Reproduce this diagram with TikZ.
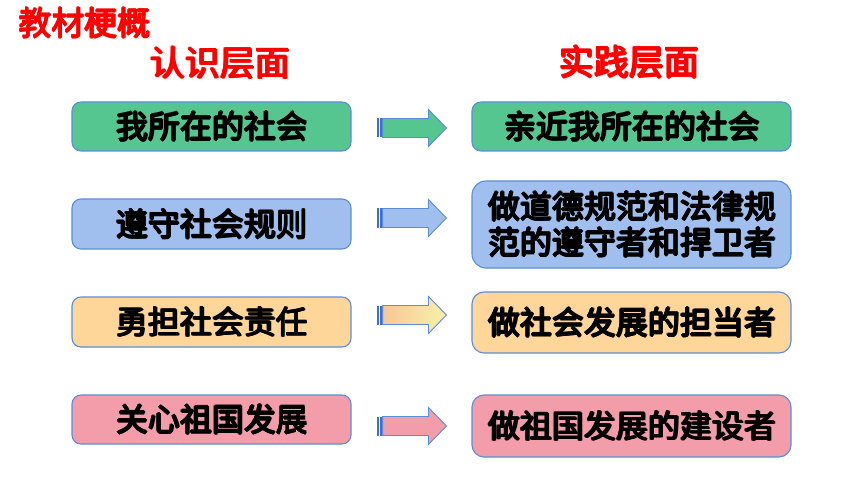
\documentclass[tikz,border=0pt]{standalone}
\usepackage{fontspec}
\newfontfamily\cjkb{Noto Sans CJK SC}
\usetikzlibrary{calc}
\definecolor{bordblue}{HTML}{5B8ED8}
\definecolor{boxgreen}{HTML}{55C690}
\definecolor{boxblue}{HTML}{A0BFEE}
\definecolor{boxorange}{HTML}{FFD699}
\definecolor{boxpink}{HTML}{F29DA9}
\definecolor{grA}{HTML}{F9C598}
\definecolor{grB}{HTML}{F8F2AA}
\definecolor{stripe}{HTML}{3F6FD0}
\newcommand\heavy[1]{\rlap{\kern1.5pt#1}\rlap{\kern0.75pt\raisebox{0.8pt}{#1}}\rlap{\kern0.75pt\raisebox{-0.8pt}{#1}}\rlap{\kern0.4pt\raisebox{0.4pt}{#1}}\rlap{\kern1.1pt\raisebox{-0.4pt}{#1}}#1}
\begin{document}
\begin{tikzpicture}[x=1pt,y=-1pt,
  titletext/.style={text=red,font=\cjkb\fontsize{35}{40}\selectfont,inner sep=0},
  cbox/.style={draw=bordblue,line width=1.1pt,rounded corners=9pt,inner sep=0,
    font=\cjkb\fontsize{32}{36}\selectfont,align=center,text=black},
  stripebar/.style={fill=stripe,draw=none}]
\useasboundingbox (0,0) rectangle (860,484);
\fill[white] (0,0) rectangle (860,484);
% titles
\node[titletext,font=\cjkb\fontsize{33}{36}\selectfont] (t0) at (84,23) {\heavy{教材梗概}};
\node[titletext] (t1) at (219.5,63) {\heavy{认识层面}};
\node[titletext] (t2) at (628.5,62) {\heavy{实践层面}};
% left boxes
\node[cbox,fill=boxgreen,minimum width=279,minimum height=49] (L1) at (211.5,126.5) {\heavy{我所在的社会}};
\node[cbox,fill=boxblue,minimum width=279,minimum height=50] (L2) at (211.5,224) {\heavy{遵守社会规则}};
\node[cbox,fill=boxorange,minimum width=279,minimum height=50] (L3) at (211.5,322) {\heavy{勇担社会责任}};
\node[cbox,fill=boxpink,minimum width=279,minimum height=49] (L4) at (211.5,419.5) {\heavy{关心祖国发展}};
% right boxes
\node[cbox,fill=boxgreen,minimum width=319,minimum height=49] (R1) at (631.5,126.5) {\heavy{亲近我所在的社会}};
\node[cbox,fill=boxblue,minimum width=319,minimum height=87,rounded corners=14pt] (R2) at (631.5,224.5) {\heavy{做道德规范和法律规}\\\heavy{范的遵守者和捍卫者}};
\node[cbox,fill=boxorange,minimum width=319,minimum height=61,rounded corners=12pt] (R3) at (631.5,322.5) {\heavy{做社会发展的担当者}};
\node[cbox,fill=boxpink,minimum width=319,minimum height=62,rounded corners=12pt] (R4) at (631.5,426) {\heavy{做祖国发展的建设者}};
% arrow end points
\coordinate (a1s) at ($(L1.east |- 0,128)+(25,0)$);
\coordinate (a1e) at ($(R1.west |- 0,128)+(-25,0)$);
\coordinate (a2s) at ($(L2.east |- 0,218)+(25,0)$);
\coordinate (a2e) at ($(R2.west |- 0,218)+(-25,0)$);
\coordinate (a3s) at ($(L3.east |- 0,315)+(25,0)$);
\coordinate (a3e) at ($(R3.west |- 0,315)+(-25,0)$);
\coordinate (a4s) at ($(L4.east |- 0,426)+(25,0)$);
\coordinate (a4e) at ($(R4.west |- 0,426)+(-25,0)$);
\newcommand\blockarrow[3]{%
  \fill[stripebar] ($(#1)+(0,-9.5)$) rectangle ($(#1)+(2.5,9.5)$);
  \fill[stripebar] ($(#1)+(3.5,-9.5)$) rectangle ($(#1)+(5.5,9.5)$);
  \draw[draw=bordblue,line width=0.9pt,#3]
    ($(#1)+(6,-9.5)$) -- ($(#2)+(-18,-9.5)$) -- ($(#2)+(-18,-18.5)$) -- (#2)
    -- ($(#2)+(-18,18.5)$) -- ($(#2)+(-18,9.5)$) -- ($(#1)+(6,9.5)$) -- cycle;
}
\blockarrow{a1s}{a1e}{fill=boxgreen}
\blockarrow{a2s}{a2e}{fill=boxblue}
\blockarrow{a3s}{a3e}{left color=grA,right color=grB}
\blockarrow{a4s}{a4e}{fill=boxpink}
\end{tikzpicture}
\end{document}
